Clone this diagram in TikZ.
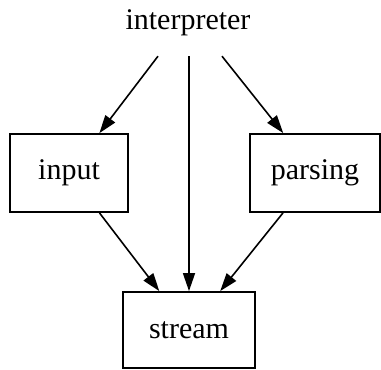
\documentclass[tikz,border=0pt]{standalone}
\usepackage{fontspec}
\setmainfont{Liberation Serif}
\usetikzlibrary{positioning,calc,arrows.meta}

\begin{document}
\begin{tikzpicture}[x=0.5pt, y=-0.5pt, font=\fontsize{15}{18}\selectfont,
    mod block/.style={draw, rectangle, line width=0.9pt, minimum height=39pt, inner sep=0pt},
    link/.style={-{Triangle[length=9pt,width=6pt]}, line width=0.8pt}]
    \useasboundingbox (0,0) rectangle (381,370);
    \node (interp) at (188,23) {interpreter};
    \node[mod block, minimum width=59pt] (input) at (69,173) {input};
    \node[mod block, minimum width=65pt] (parsing) at (315,173) {parsing};
    \node[mod block, minimum width=66pt, minimum height=38pt] (stream) at (189,330) {stream};

    \draw[link] ($(interp.south)+(-30,13)$) -- (input);
    \draw[link] ($(interp.south)+(1,13)$) -- (stream);
    \draw[link] ($(interp.south)+(34,13)$) -- (parsing);
    \draw[link] (input) -- (stream);
    \draw[link] (parsing) -- (stream);
\end{tikzpicture}
\end{document}
